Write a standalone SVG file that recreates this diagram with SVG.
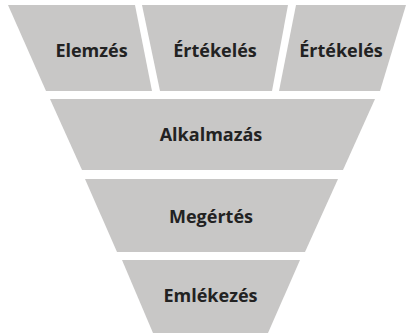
<svg xmlns="http://www.w3.org/2000/svg" width="411" height="333" viewBox="0 0 411 333">
<style>
.s{fill:#c8c7c6;}
.t{font-family:"Open Sans","Liberation Sans",sans-serif;font-weight:bold;font-size:18px;fill:#222222;text-anchor:middle;}
</style>
<rect width="411" height="333" fill="#ffffff"/>
<g id="elemzes"><polygon class="s" points="8,5 135,5 152,91 46,91"/><text class="t" x="91.5" y="56.5">Elemzés</text></g>
<g id="ertekeles1"><polygon class="s" points="142,5 288,5 272,91 160,91"/><text class="t" x="215" y="56.5">Értékelés</text></g>
<g id="ertekeles2"><polygon class="s" points="296,5 406,5 380,91 279,91"/><text class="t" x="341" y="56.5">Értékelés</text></g>
<g id="alkalmazas"><polygon class="s" points="50,99 375,99 343,170 82,170"/><text class="t" x="211" y="140.5">Alkalmazás</text></g>
<g id="megertes"><polygon class="s" points="85,179 338,179 305,252 117,252"/><text class="t" x="211" y="223">Megértés</text></g>
<g id="emlekezes"><polygon class="s" points="122,260 300,260 268,333 153,333"/><text class="t" x="210.5" y="301.5">Emlékezés</text></g>
<g id="connectors"></g>
</svg>
